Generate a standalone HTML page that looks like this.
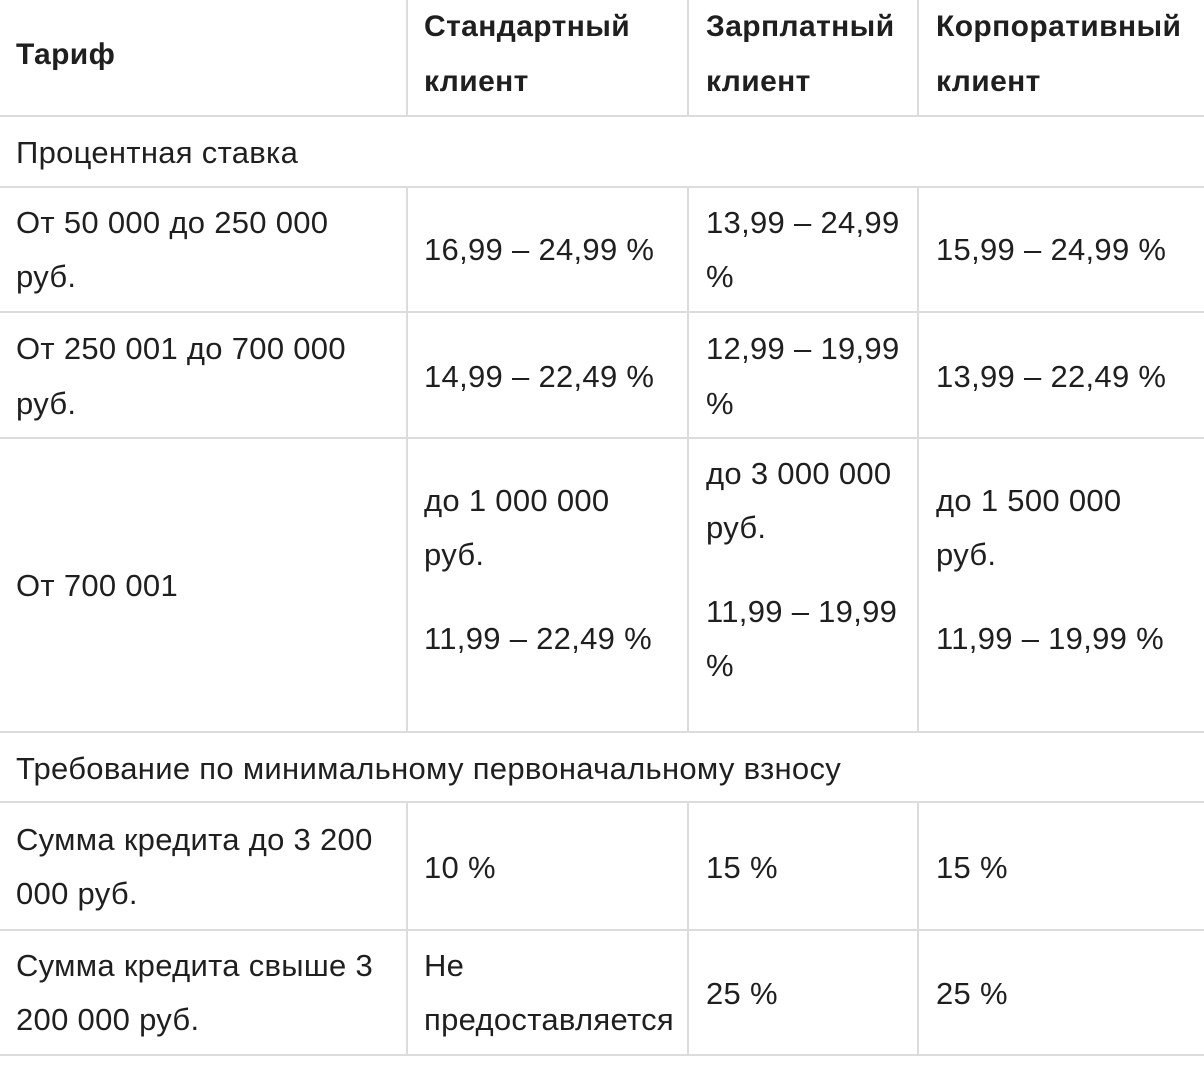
<!DOCTYPE html>
<html><head><meta charset="utf-8"><style>
body{margin:0;width:1204px;height:1074px;background:#fff;position:relative;overflow:hidden;font-family:"Liberation Sans","DejaVu Sans",sans-serif;color:#1f1f1f}
.t{position:absolute;font-size:31px;letter-spacing:0.3px;height:54px;line-height:54px;white-space:nowrap}
.b{font-weight:bold;font-size:30px;letter-spacing:0.4px}
.h{position:absolute;left:0;width:1204px;height:2px;background:#dcdcdc}
.v{position:absolute;width:2px;background:#dcdcdc}
</style></head><body>
<div class="h" style="top:115px"></div>
<div class="h" style="top:186px"></div>
<div class="h" style="top:311px"></div>
<div class="h" style="top:437px"></div>
<div class="h" style="top:731px"></div>
<div class="h" style="top:801px"></div>
<div class="h" style="top:929px"></div>
<div class="h" style="top:1054px"></div>
<div class="v" style="left:406px;top:0;height:116px"></div>
<div class="v" style="left:687px;top:0;height:116px"></div>
<div class="v" style="left:917px;top:0;height:116px"></div>
<div class="v" style="left:406px;top:187px;height:545px"></div>
<div class="v" style="left:687px;top:187px;height:545px"></div>
<div class="v" style="left:917px;top:187px;height:545px"></div>
<div class="v" style="left:406px;top:802px;height:253px"></div>
<div class="v" style="left:687px;top:802px;height:253px"></div>
<div class="v" style="left:917px;top:802px;height:253px"></div>

<div class="t b" style="left:16px;top:28px">Тариф</div>
<div class="t b" style="left:424px;top:0px">Стандартный</div>
<div class="t b" style="left:424px;top:55px">клиент</div>
<div class="t b" style="left:706px;top:0px">Зарплатный</div>
<div class="t b" style="left:706px;top:55px">клиент</div>
<div class="t b" style="left:936px;top:0px">Корпоративный</div>
<div class="t b" style="left:936px;top:55px">клиент</div>

<div class="t" style="left:16px;top:126px">Процентная ставка</div>

<div class="t" style="left:16px;top:196px">От 50 000 до 250 000</div>
<div class="t" style="left:16px;top:250px">руб.</div>
<div class="t" style="left:424px;top:223px">16,99 – 24,99 %</div>
<div class="t" style="left:706px;top:196px">13,99 – 24,99</div>
<div class="t" style="left:706px;top:250px">%</div>
<div class="t" style="left:936px;top:223px">15,99 – 24,99 %</div>

<div class="t" style="left:16px;top:322px">От 250 001 до 700 000</div>
<div class="t" style="left:16px;top:377px">руб.</div>
<div class="t" style="left:424px;top:350px">14,99 – 22,49 %</div>
<div class="t" style="left:706px;top:322px">12,99 – 19,99</div>
<div class="t" style="left:706px;top:377px">%</div>
<div class="t" style="left:936px;top:350px">13,99 – 22,49 %</div>

<div class="t" style="left:16px;top:559px">От 700 001</div>
<div class="t" style="left:424px;top:474px">до 1 000 000</div>
<div class="t" style="left:424px;top:528px">руб.</div>
<div class="t" style="left:424px;top:612px">11,99 – 22,49 %</div>
<div class="t" style="left:706px;top:447px">до 3 000 000</div>
<div class="t" style="left:706px;top:501px">руб.</div>
<div class="t" style="left:706px;top:585px">11,99 – 19,99</div>
<div class="t" style="left:706px;top:639px">%</div>
<div class="t" style="left:936px;top:474px">до 1 500 000</div>
<div class="t" style="left:936px;top:528px">руб.</div>
<div class="t" style="left:936px;top:612px">11,99 – 19,99 %</div>

<div class="t" style="left:16px;top:742px">Требование по минимальному первоначальному взносу</div>

<div class="t" style="left:16px;top:813px">Сумма кредита до 3 200</div>
<div class="t" style="left:16px;top:867px">000 руб.</div>
<div class="t" style="left:424px;top:841px">10 %</div>
<div class="t" style="left:706px;top:841px">15 %</div>
<div class="t" style="left:936px;top:841px">15 %</div>

<div class="t" style="left:16px;top:939px">Сумма кредита свыше 3</div>
<div class="t" style="left:16px;top:993px">200 000 руб.</div>
<div class="t" style="left:424px;top:939px">Не</div>
<div class="t" style="left:424px;top:993px">предоставляется</div>
<div class="t" style="left:706px;top:967px">25 %</div>
<div class="t" style="left:936px;top:967px">25 %</div>
</body></html>
